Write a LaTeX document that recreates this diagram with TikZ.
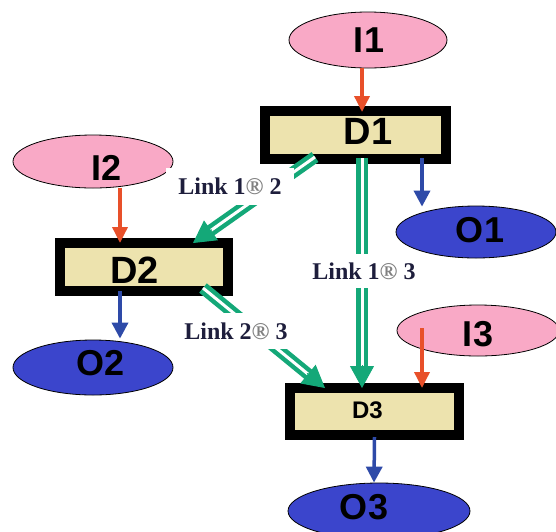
\documentclass[tikz,border=0pt]{standalone}
\usepackage{fontspec}
\setmainfont{Liberation Serif}
\newfontfamily\arialfont{Liberation Sans}
\usetikzlibrary{shapes.geometric, arrows.meta, calc}

\definecolor{inpink}{HTML}{F9A9C6}
\definecolor{outblue}{HTML}{3B45CC}
\definecolor{boxtan}{HTML}{EDE3AE}
\definecolor{linkgreen}{HTML}{14A878}
\definecolor{inred}{HTML}{E8502A}
\definecolor{outarrow}{HTML}{2E4AA8}
\definecolor{labelink}{HTML}{1E1E3C}

\tikzset{
  port/.style={ellipse, draw=black, line width=0.8pt, inner sep=0pt},
  inport/.style={port, fill=inpink},
  outport/.style={port, fill=outblue},
  modbox/.style={rectangle, draw=black, line width=10pt, fill=boxtan,
    inner sep=0pt, outer sep=0pt},
  bigtxt/.style={font=\arialfont\bfseries\fontsize{36}{36}\selectfont,
    inner sep=0pt, text=black},
  boxtxt/.style={font=\arialfont\bfseries\fontsize{38}{38}\selectfont,
    inner sep=0pt, text=black},
  smalltxt/.style={font=\arialfont\bfseries\fontsize{24}{24}\selectfont,
    inner sep=0pt, text=black},
  feedin/.style={draw=inred, line width=3.5pt,
    -{Triangle[length=16pt,width=15pt]}},
  feedout/.style={draw=outarrow, line width=3.5pt,
    -{Triangle[length=16pt,width=16pt]}},
  linkline/.style={draw=linkgreen, line width=4.5pt, double=white,
    double distance=3pt, shorten >=20pt},
  linktip/.style={draw=linkgreen, fill=linkgreen, line width=1pt,
    -{Triangle[length=22pt,width=24pt]}},
  linklabel/.style={fill=white, text=labelink,
    font=\bfseries\fontsize{24}{24}\selectfont},
}
\newcommand{\regmark}{{\color{gray}\textregistered}}

\begin{document}
\begin{tikzpicture}[x=1pt, y=-1pt]
  \useasboundingbox (0,0) rectangle (556,531);

  % input ellipses
  \node[inport, minimum width=158pt, minimum height=56pt,
        label={[bigtxt, xshift=1pt]center:I1}] (I1) at (368,40) {};
  \node[inport, minimum width=160pt, minimum height=53pt,
        label={[bigtxt, xshift=14pt, yshift=-6pt]center:I2}] (I2) at (93,161.5) {};
  \node[inport, minimum width=162pt, minimum height=51pt,
        label={[bigtxt, yshift=-4pt]center:I3}] (I3) at (478,330.5) {};

  % output ellipses
  \node[outport, minimum width=160pt, minimum height=52pt,
        label={[bigtxt, xshift=4pt, yshift=2pt]center:O1}] (O1) at (476,232) {};
  \node[outport, minimum width=160pt, minimum height=55pt,
        label={[bigtxt, xshift=8pt, yshift=4pt]center:O2}] (O2) at (93,367.5) {};
  \node[outport, minimum width=182pt, minimum height=56pt,
        label={[bigtxt, xshift=-15pt, yshift=3.5pt]center:O3}] (O3) at (379,511) {};

  % modules
  \node[modbox, minimum width=181pt, minimum height=48pt,
        label={[boxtxt, xshift=12.5pt, yshift=4pt]center:D1}] (D1) at (355.5,135) {};
  \node[modbox, minimum width=168pt, minimum height=48pt,
        label={[boxtxt, xshift=-9.5pt, yshift=-3pt]center:D2}] (D2) at (144,267) {};
  \node[modbox, minimum width=169pt, minimum height=47pt,
        label={[smalltxt, xshift=-7pt, yshift=1pt]center:D3}] (D3) at (374.5,411.5) {};

  % external inputs
  \draw[feedin] ([xshift=-6pt]I1.south) -- ([xshift=6.5pt, yshift=-1pt]D1.north);
  \draw[feedin] ([xshift=27pt]I2.south) -- ([xshift=-24pt]D2.north);
  \draw[feedin] ([xshift=-56pt, yshift=2.5pt]I3.center) -- ([xshift=47.5pt]D3.north);

  % external outputs
  \draw[feedout] ([xshift=66.5pt, yshift=1pt]D1.south) -- ([xshift=-54pt, yshift=-1pt]O1.north);
  \draw[feedout] ([xshift=-24pt]D2.south) -- ([xshift=27pt, yshift=1pt]O2.north);
  \draw[feedout] ([yshift=-2pt]D3.south) -- ([xshift=-5pt]O3.north);

  % links between modules
  \coordinate (s12) at ([xshift=-40.5pt, yshift=2pt]D1.south);
  \coordinate (t12) at ([xshift=49pt]D2.north);
  \coordinate (s13) at ([xshift=6.5pt, yshift=1pt]D1.south);
  \coordinate (t13) at ([xshift=-12.5pt]D3.north);
  \coordinate (s23) at ([xshift=59pt, yshift=3pt]D2.south);
  \coordinate (t23) at ([xshift=-49.5pt]D3.north);

  \draw[linkline] (s12) -- (t12);
  \draw[linktip] ($(t12)!23pt!(s12)$) -- (t12);
  \draw[linkline] (s13) -- (t13);
  \draw[linktip] ($(t13)!23pt!(s13)$) -- (t13);
  \draw[linkline] (s23) -- (t23);
  \draw[linktip] ($(t23)!23pt!(s23)$) -- (t23);

  % link labels
  \node[linklabel, inner xsep=12pt, inner ysep=10pt] (L12) at (230,186.5) {Link 1\regmark\ 2};
  \node[linklabel, inner xsep=4pt, inner ysep=9pt] (L13) at (364,271) {Link 1\regmark\ 3};
  \node[linklabel, inner xsep=10pt, inner ysep=10pt] (L23) at (236,331) {Link 2\regmark\ 3};
\end{tikzpicture}
\end{document}
